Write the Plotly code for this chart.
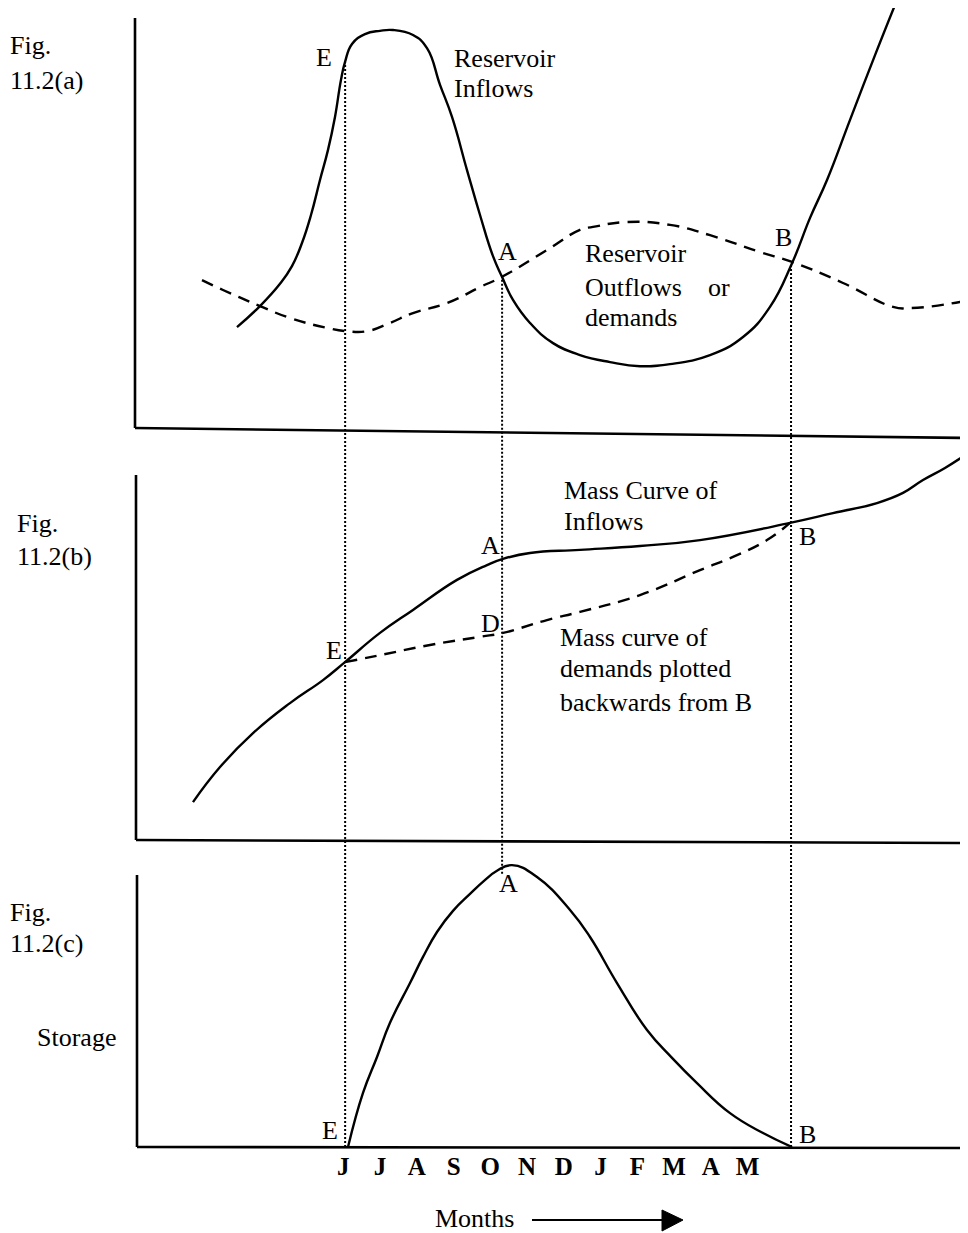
import plotly.graph_objects as go

PAGE_W, PAGE_H = 968, 1233
OFF = 8                      # browser default body margin
W, H = PAGE_W - OFF, PAGE_H - OFF
FONT = "Liberation Serif"

# ---------------- data (x in months from start of June) ----------------
months = ["J", "J", "A", "S", "O", "N", "D", "J", "F", "M", "A", "M"]
month_pos = list(range(12))

# Fig 11.2(a): reservoir inflows and outflows (arbitrary flow units)
inflow_t = [-2.892, -2.266, -1.722, -1.396, -1.124, -0.879, -0.634, -0.416, -0.226, -0.063,
            0.046, 0.237, 0.590, 0.998, 1.352, 1.896, 2.277, 2.631, 2.957, 3.365,
            3.719, 4.072, 4.317, 4.616, 5.079, 5.705, 6.439, 7.255, 8.071, 8.888,
            9.976, 10.874, 11.608, 12.207, 12.697, 13.159, 13.785, 14.465, 15.009]
inflow_q = [24.5, 29.6, 35.0, 39.3, 44.9, 51.7, 60.2, 67.5, 75.5, 84.5,
            88.8, 93.2, 95.6, 96.4, 96.6, 95.4, 92.2, 83.3, 75.5, 62.6,
            51.7, 41.7, 36.7, 31.1, 25.5, 20.6, 17.7, 16.0, 15.0, 15.5,
            17.7, 22.1, 29.4, 40.0, 51.0, 60.2, 74.8, 90.5, 102.7]

outflow_t = [-3.844, -3.273, -2.266, -1.450, -0.443, 0.101, 0.645, 1.270, 1.896, 2.821, 3.719,
             4.317, 5.541, 6.439, 6.793, 7.718, 8.888, 9.976, 11.336, 12.207, 13.594,
             14.954, 15.416, 16.776, 16.994]
outflow_q = [35.9, 33.5, 29.6, 26.7, 24.3, 23.5, 23.5, 25.5, 27.9, 30.3, 34.2,
             36.7, 43.2, 48.1, 48.8, 50.0, 49.3, 46.8, 42.7, 40.3, 35.2,
             29.4, 29.1, 30.6, 31.1]

# Fig 11.2(b): mass curves (cumulative volume units)
mass_in_t = [-4.089, -3.354, -2.456, -1.450, -0.552, 0.046, 0.998, 1.896, 3.093, 3.909,
             4.344, 5.079, 6.439, 8.071, 9.704, 12.152, 13.321, 14.518, 15.226, 15.770,
             16.368, 16.994]
mass_in_v = [9.7, 18.7, 27.4, 35.1, 41.0, 45.6, 53.1, 59.0, 66.7, 70.5,
             72.1, 73.6, 74.4, 75.4, 76.9, 81.3, 83.8, 86.4, 89.0, 92.3,
             95.4, 99.2]

mass_dem_t = [0.046, 0.998, 2.358, 3.719, 4.344, 5.541, 6.439, 8.071, 9.704, 10.601,
              11.526, 12.152]
mass_dem_v = [45.6, 47.4, 50.0, 52.1, 53.1, 56.4, 58.5, 62.8, 69.2, 72.6,
              76.9, 81.3]

# Fig 11.2(c): storage
storage_t = [0.128, 0.536, 0.917, 1.270, 1.815, 2.168, 2.549, 2.984, 3.447, 3.828,
             4.181, 4.590, 5.270, 6.168, 6.712, 7.446, 8.262, 8.942, 9.622, 10.520,
             11.418, 12.207]
storage_v = [0.0, 18.2, 30.3, 41.8, 55.2, 64.0, 72.4, 79.5, 85.2, 89.6,
             93.0, 94.9, 90.9, 79.8, 70.7, 55.2, 39.4, 30.0, 21.5, 11.4,
             4.7, 0.0]

# key instants E, A, B and the inflow-curve values there (panel a)
t_E, t_A, t_B = 0.05, 4.32, 12.18
q_E, q_A, q_B = 88.8, 36.7, 40.0
s_A = 92.0

# ---------------- layout helpers (page pixels -> paper) ----------------
def px(x):
    return (x - OFF) / W

def py(y):
    return 1 - (y - OFF) / H

dom_a = [py(428), 1.0]
dom_b = [py(840), py(450)]
dom_c = [py(1147), py(850)]
rng_a = [0, (428 - OFF) / 4.12]
rng_b = [0, 100]
rng_c = [0, 100]

def to_paper(dom, rng, v):
    return dom[0] + (v - rng[0]) / (rng[1] - rng[0]) * (dom[1] - dom[0])

fig = go.Figure()
LW = 2.4
SM = 1.3
fig.add_trace(go.Scatter(x=inflow_t, y=inflow_q, mode="lines", xaxis="x", yaxis="y",
                         line=dict(color="black", width=LW, shape="spline", smoothing=SM)))
fig.add_trace(go.Scatter(x=outflow_t, y=outflow_q, mode="lines", xaxis="x", yaxis="y",
                         line=dict(color="black", width=LW, dash="12px,8px", shape="spline", smoothing=SM)))
fig.add_trace(go.Scatter(x=mass_in_t, y=mass_in_v, mode="lines", xaxis="x", yaxis="y2",
                         line=dict(color="black", width=LW, shape="spline", smoothing=SM)))
fig.add_trace(go.Scatter(x=mass_dem_t, y=mass_dem_v, mode="lines", xaxis="x", yaxis="y2",
                         line=dict(color="black", width=LW, dash="12px,8px", shape="spline", smoothing=SM)))
fig.add_trace(go.Scatter(x=storage_t, y=storage_v, mode="lines", xaxis="x", yaxis="y3",
                         line=dict(color="black", width=LW, shape="spline", smoothing=SM)))

shapes = []
# axes frames (paper coords, slightly skewed as in the scan)
axis_lines = [
    ((135, 18), (135, 428)), ((135, 428), (968, 438)),
    ((136, 475), (136, 840)), ((136, 840), (968, 843)),
    ((137, 875), (137, 1147)), ((137, 1147), (968, 1148)),
]
for (x0, y0), (x1, y1) in axis_lines:
    shapes.append(dict(type="line", xref="paper", yref="paper",
                       x0=px(x0), y0=py(y0), x1=px(x1), y1=py(y1),
                       line=dict(color="black", width=2.6)))
# dotted verticals at E, A, B
dots = [
    (t_E, to_paper(dom_a, rng_a, q_E), dom_c[0]),
    (t_A, to_paper(dom_a, rng_a, q_A), to_paper(dom_c, rng_c, s_A)),
    (t_B, to_paper(dom_a, rng_a, q_B), dom_c[0]),
]
for t, ytop, ybot in dots:
    shapes.append(dict(type="line", xref="x", yref="paper", x0=t, x1=t, y0=ybot, y1=ytop,
                       line=dict(color="black", width=2, dash="2px,2px")))
# months arrow
shapes.append(dict(type="line", xref="paper", yref="paper",
                   x0=px(532), y0=py(1220), x1=px(665), y1=py(1220),
                   line=dict(color="black", width=2.2)))
shapes.append(dict(type="path", xref="paper", yref="paper",
                   path=f"M {px(662)} {py(1210)} L {px(683)} {py(1220)} L {px(662)} {py(1231)} Z",
                   fillcolor="black", line=dict(color="black", width=1)))

texts = [
    ("Fig.", 8, 45), ("11.2(a)", 8, 80),
    ("E", 314, 57), ("Reservoir", 452, 58), ("Inflows", 452, 88),
    ("A", 496, 252), ("Reservoir", 583, 254), ("Outflows", 583, 287), ("or", 706, 287),
    ("demands", 583, 318), ("B", 773, 237),
    ("Fig.", 15, 524), ("11.2(b)", 15, 556),
    ("Mass Curve of", 562, 490), ("Inflows", 562, 521),
    ("A", 479, 546), ("D", 479, 623), ("E", 324, 650), ("B", 797, 536),
    ("Mass curve of", 558, 637), ("demands plotted", 558, 668), ("backwards from B", 558, 702),
    ("Fig.", 8, 912), ("11.2(c)", 8, 943), ("Storage", 35, 1037),
    ("A", 497, 883), ("E", 320, 1130), ("B", 797, 1134),
    ("Months", 433, 1218),
]
annotations = [dict(text=t, x=px(x), y=py(y), xref="paper", yref="paper",
                    xanchor="left", yanchor="middle", showarrow=False,
                    font=dict(family=FONT, size=26, color="black"))
               for t, x, y in texts]

x0m = (OFF - 343.3) / 36.76
x1m = (PAGE_W - 343.3) / 36.76
fig.update_layout(
    width=W, height=H, margin=dict(l=0, r=0, t=0, b=0),
    paper_bgcolor="white", plot_bgcolor="white", showlegend=False,
    xaxis=dict(range=[x0m, x1m], anchor="y3", showgrid=False, zeroline=False, showline=False,
               tickmode="array", tickvals=month_pos, ticktext=[f"<b>{m}</b>" for m in months],
               ticks="", ticklabelstandoff=2,
               tickfont=dict(family=FONT, size=25, color="black")),
    yaxis=dict(domain=dom_a, range=rng_a, visible=False),
    yaxis2=dict(domain=dom_b, range=rng_b, visible=False),
    yaxis3=dict(domain=dom_c, range=rng_c, visible=False),
    shapes=shapes, annotations=annotations,
)
fig.write_html("out.html")
